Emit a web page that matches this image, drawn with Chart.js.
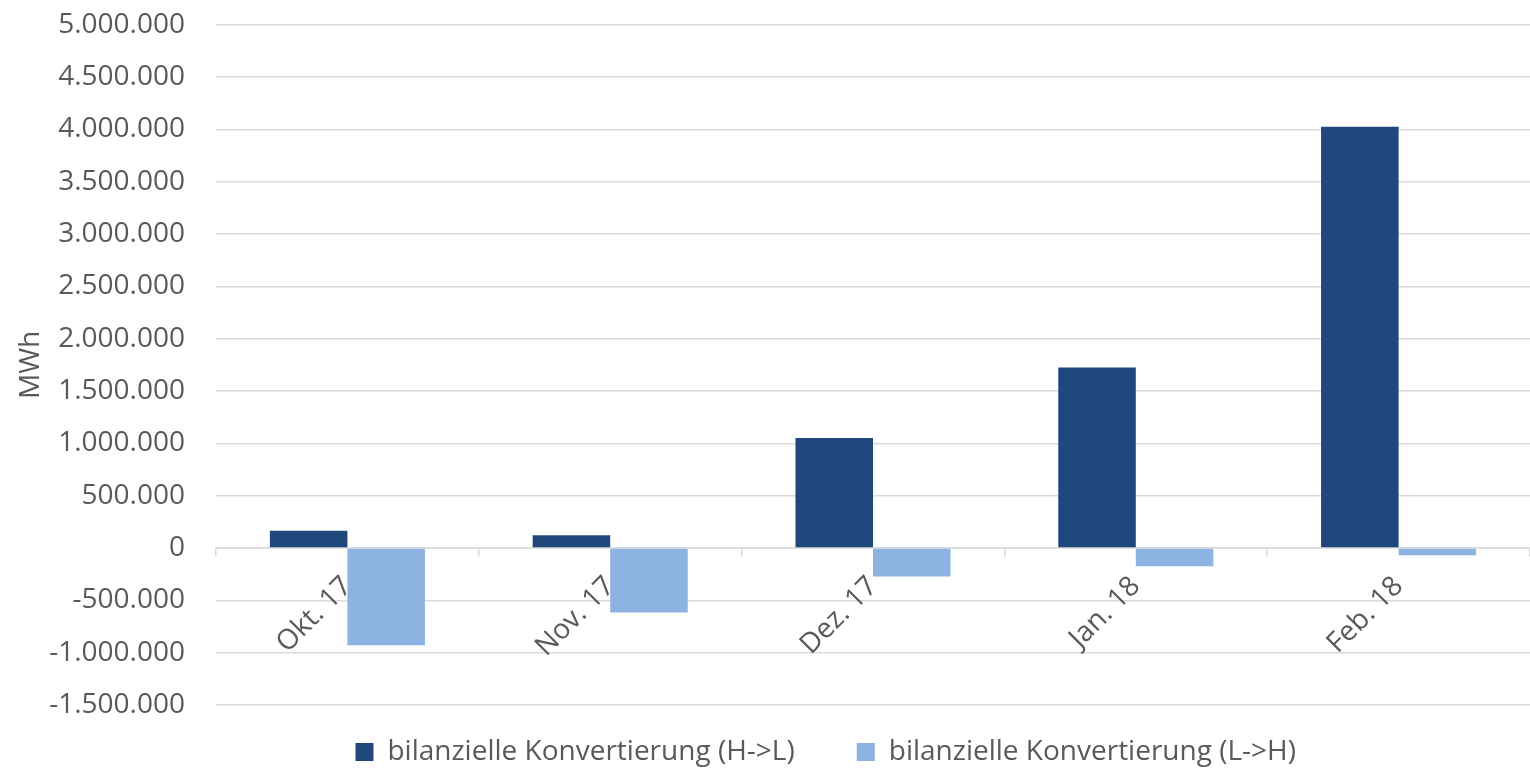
<!DOCTYPE html>
<html>
<head>
<meta charset="utf-8">
<script src="https://cdn.jsdelivr.net/npm/chart.js@4"></script>
<style>
  html, body { margin: 0; padding: 0; background: #fff; overflow: hidden; }
  #wrap { width: 1530px; height: 792px; margin-top: -23px; }
</style>
</head>
<body>
<div id="wrap"><canvas id="chart"></canvas></div>
<script>
const months = ["Okt. 17", "Nov. 17", "Dez. 17", "Jan. 18", "Feb. 18"];
const highToLow = [165000, 122000, 1052000, 1724000, 4026000];
const lowToHigh = [-930000, -615000, -272000, -175000, -70000];
const seriesNames = ["bilanzielle Konvertierung (H->L)", "bilanzielle Konvertierung (L->H)"];
const yMin = -1500000;
const yMax = 5000000;
const yStep = 500000;

const textColor = "#595959";
const gridColor = "#d9d9d9";
const font = "'Open Sans', sans-serif";

// 1.500.000 statt 1,500,000
const fmt = (v) => {
  const s = Math.abs(v).toFixed(0).replace(/\B(?=(\d{3})+(?!\d))/g, ".");
  return v < 0 ? "-" + s : s;
};

const ctx = document.getElementById("chart").getContext("2d");
new Chart(ctx, {
  type: "bar",
  data: {
    labels: months,
    datasets: [
      { label: seriesNames[0], data: highToLow, backgroundColor: "#1f477b" },
      { label: seriesNames[1], data: lowToHigh, backgroundColor: "#8db3e2" }
    ]
  },
  options: {
    responsive: true,
    maintainAspectRatio: false,
    animation: false,
    datasets: {
      bar: { categoryPercentage: 0.59, barPercentage: 1.0 }
    },
    layout: { padding: { top: 0, right: 0, bottom: -7, left: 0 } },
    plugins: {
      tooltip: { enabled: false },
      legend: {
        position: "bottom",
        fullSize: false,
        labels: {
          color: textColor,
          font: { family: font, size: 28 },
          boxWidth: 18,
          boxHeight: 18,
          padding: 33,
          // Abstand zwischen den Einträgen wie im Original
          generateLabels: (chart) => {
            const items = Chart.defaults.plugins.legend.labels.generateLabels(chart);
            items[0].text += "    ";
            items[items.length - 1].text += "             ";
            return items;
          }
        }
      }
    },
    scales: {
      x: {
        position: { y: 0 },
        grid: {
          drawOnChartArea: false,
          drawTicks: true,
          tickLength: 8,
          color: gridColor,
          lineWidth: 1.5,
          offset: true
        },
        border: { display: true, color: gridColor, width: 1.5 },
        ticks: {
          color: textColor,
          font: { family: font, size: 28 },
          minRotation: 45,
          maxRotation: 45,
          padding: 14,
          autoSkip: false
        }
      },
      y: {
        min: yMin,
        max: yMax,
        afterFit: (scale) => { scale.width = 216; },
        grid: { color: gridColor, lineWidth: 1.5, drawTicks: false },
        border: { display: false },
        ticks: {
          stepSize: yStep,
          color: textColor,
          font: { family: font, size: 28 },
          padding: 31,
          callback: (v) => fmt(v)
        },
        title: {
          display: true,
          text: "MWh",
          color: textColor,
          font: { family: font, size: 28 },
          padding: { top: 14, bottom: 0 }
        }
      }
    }
  }
});
</script>
</body>
</html>
